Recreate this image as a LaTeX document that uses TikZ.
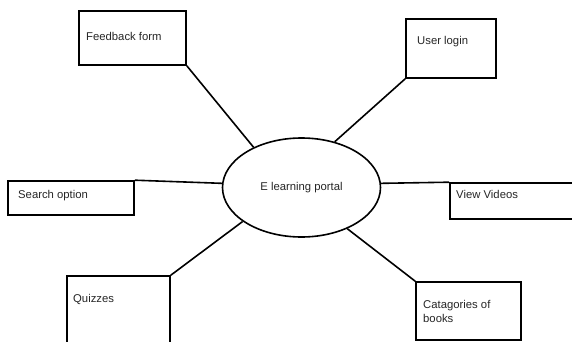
\documentclass[tikz,border=0pt]{standalone}
\usepackage{fontspec}
\setmainfont{Liberation Sans}
\usetikzlibrary{shapes.geometric}
\begin{document}
\begin{tikzpicture}[x=1pt,y=-1pt,
  box/.style={draw=black, line width=1.6pt, rectangle, inner sep=0pt},
  lbl/.style={anchor=west, inner sep=0pt, font=\fontsize{11.3}{13.5}\selectfont, text=black!85},
  conn/.style={draw=black, line width=1.6pt},
  portalshape/.style={draw=black, line width=1.6pt, ellipse, inner sep=0pt, minimum width=158pt, minimum height=99pt, font=\fontsize{11.3}{13.5}\selectfont, text=black!85}]
\useasboundingbox[fill=white] (0,0) rectangle (572,342);
% centre
\node[portalshape] (portal) at (301.5,187.5) {E learning portal};
% boxes
\node[box, minimum width=107pt, minimum height=54pt] (fb) at (132.5,38) {};
\node[lbl] (fbt) at (86,36.5) {Feedback form};
\node[box, minimum width=90pt, minimum height=59pt] (ul) at (451,48.5) {};
\node[lbl] (ult) at (417,41.5) {User login};
\node[box, minimum width=126pt, minimum height=34pt] (so) at (71,198) {};
\node[lbl] (sot) at (18,196) {Search option};
\node[box, minimum width=140pt, minimum height=36pt] (vv) at (520,201) {};
\node[lbl] (vvt) at (456,194) {View Videos};
\node[box, minimum width=103pt, minimum height=80pt] (qz) at (118.5,316) {};
\node[lbl] (qzt) at (73,299.5) {Quizzes};
\node[box, minimum width=105pt, minimum height=58pt] (cb) at (468.5,311) {};
\node[lbl, align=left] (cbt) at (423,311.5) {Catagories of\\books};
% connectors
\draw[conn] (fb.south east) -- (portal.140);
\draw[conn] (ul.south west) -- (portal.54);
\draw[conn] (so.north east) -- (portal.177);
\draw[conn] (portal.3) -- (vv.north west);
\draw[conn] (qz.north east) -- (portal.210);
\draw[conn] (portal.318) -- (cb.north west);
\end{tikzpicture}
\end{document}
